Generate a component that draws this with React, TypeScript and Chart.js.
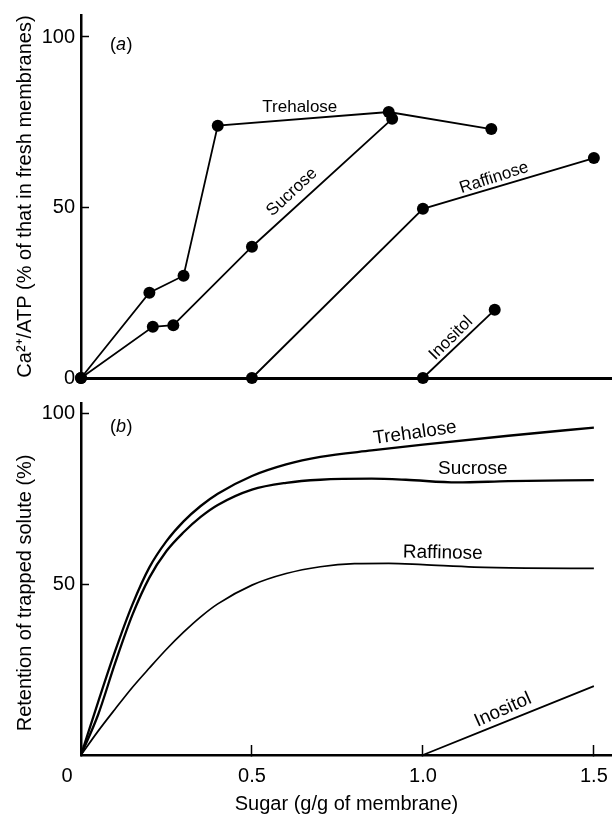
import React, { useEffect, useRef } from "react";
import { Chart, registerables } from "chart.js";

Chart.register(...registerables);

const FONT = '"Liberation Sans", Arial, Helvetica, sans-serif';

// ---- Panel (a): Ca2+/ATP coupling after drying with sugar ----
const trehaloseA_x = [0, 0.2, 0.3, 0.4, 0.9, 1.2];
const trehaloseA_y = [0, 25, 30, 74, 78, 73];
const sucroseA_x = [0, 0.21, 0.27, 0.5, 0.91];
const sucroseA_y = [0, 15, 15.5, 38.5, 76];
const raffinoseA_x = [0.5, 1.0, 1.5];
const raffinoseA_y = [0, 49.6, 64.5];
const inositolA_x = [1.0, 1.21];
const inositolA_y = [0, 20];

// ---- Panel (b): retention of trapped solute ----
const trehaloseB_x = [0, 0.05, 0.1, 0.15, 0.2, 0.25, 0.3, 0.35, 0.4, 0.5, 0.6, 0.7, 0.85, 1.0, 1.25, 1.5];
const trehaloseB_y = [0, 15.5, 30.5, 44, 55, 62.7, 68.5, 73, 76.6, 81.8, 85.2, 87.4, 89.3, 91, 93.6, 96];
const sucroseB_x = [0, 0.05, 0.1, 0.15, 0.2, 0.25, 0.3, 0.35, 0.4, 0.5, 0.6, 0.7, 0.85, 0.95, 1.1, 1.25, 1.5];
const sucroseB_y = [0, 11.8, 27, 41, 52, 59.8, 65.3, 69.8, 73.3, 77.8, 79.8, 80.7, 81, 80.7, 79.9, 80.3, 80.6];
const raffinoseB_x = [0, 0.05, 0.1, 0.15, 0.2, 0.25, 0.3, 0.35, 0.4, 0.5, 0.6, 0.7, 0.8, 0.9, 1.0, 1.15, 1.3, 1.5];
const raffinoseB_y = [0, 7, 13.5, 19.8, 25.5, 31, 36, 40.5, 44.3, 49.8, 53.2, 55.2, 56.1, 56.2, 55.8, 55.1, 54.8, 54.7];
const inositolB_x = [1.0, 1.5];
const inositolB_y = [0, 20.2];

// ---- Axes ----
const yTicksA = [0, 50, 100];
const yTicksB = [50, 100];
const xTicks = [0, 0.5, 1.0, 1.5];
const xTickLabels = ["0\u00a0\u00a0\u00a0\u00a0\u00a0", "0.5", "1.0", "1.5"];
const X_MAX = 1.553;

// Curve names written beside the lines (data coordinates, rotation in degrees)
const namesA = [
  { text: "Trehalose", x: 0.64, y: 79.4, angle: 0, size: 17 },
  { text: "Sucrose", x: 0.617, y: 54.5, angle: -43, size: 17 },
  { text: "Raffinose", x: 1.208, y: 58.7, angle: -18, size: 17 },
  { text: "Inositol", x: 1.082, y: 11.7, angle: -45, size: 17 },
];
const namesB = [
  { text: "Trehalose", x: 0.977, y: 94.4, angle: -8, size: 19 },
  { text: "Sucrose", x: 1.146, y: 83.9, angle: 0, size: 19 },
  { text: "Raffinose", x: 1.058, y: 59.2, angle: 1, size: 19 },
  { text: "Inositol", x: 1.234, y: 13.2, angle: -24, size: 19 },
];

const zip = (xs: number[], ys: number[]) => xs.map((x, i) => ({ x, y: ys[i] }));

const curveLabels = {
  id: "curveLabels",
  afterDatasetsDraw(chart: any, _args: any, opts: any) {
    const { ctx } = chart;
    const xs = chart.scales.x;
    const ys = chart.scales.y;
    ctx.save();
    ctx.fillStyle = "#000";
    ctx.textAlign = "center";
    ctx.textBaseline = "middle";
    for (const l of opts.items || []) {
      ctx.save();
      ctx.translate(xs.getPixelForValue(l.x), ys.getPixelForValue(l.y));
      ctx.rotate((l.angle * Math.PI) / 180);
      ctx.font = `${l.size}px ${FONT}`;
      ctx.fillText(l.text, 0, 0);
      ctx.restore();
    }
    // panel letter: upright parentheses, italic letter
    if (opts.letter) {
      const px = xs.getPixelForValue(opts.letter.x);
      const py = ys.getPixelForValue(opts.letter.y);
      const up = `18px ${FONT}`;
      const it = `italic 18px ${FONT}`;
      ctx.font = up;
      const wp = ctx.measureText("(").width;
      const wc = ctx.measureText(")").width;
      ctx.font = it;
      const wl = ctx.measureText(opts.letter.text).width;
      const x0 = px - (wp + wl + wc) / 2;
      ctx.textAlign = "left";
      ctx.font = up;
      ctx.fillText("(", x0, py);
      ctx.font = it;
      ctx.fillText(opts.letter.text, x0 + wp, py);
      ctx.font = up;
      ctx.fillText(")", x0 + wp + wl + 0.5, py);
    }
    ctx.restore();
  },
};

const pointSeries = (data: { x: number; y: number }[]) => ({
  data,
  showLine: true,
  borderColor: "#000",
  borderWidth: 1.8,
  pointRadius: 6,
  pointBackgroundColor: "#000",
  pointBorderColor: "#000",
  pointBorderWidth: 0,
  clip: false as const,
});

const curveSeries = (data: { x: number; y: number }[], width: number) => ({
  data,
  showLine: true,
  borderColor: "#000",
  borderWidth: width,
  pointRadius: 0,
  cubicInterpolationMode: "monotone" as const,
  clip: false as const,
});

// keep the plot area exactly where the layout padding puts it
const noScalePadding = (s: any) => {
  s.paddingTop = 0;
  s.paddingBottom = 0;
  s.paddingLeft = 0;
  s.paddingRight = 0;
};

const yAxisBase = (max: number, ticks: number[], title: string) => ({
  type: "linear" as const,
  min: 0,
  max,
  afterBuildTicks: (s: any) => {
    s.ticks = ticks.map((v) => ({ value: v }));
  },
  ticks: { color: "#000", font: { family: FONT, size: 20 }, padding: 14 },
  grid: { drawOnChartArea: false, drawTicks: true, tickLength: -8, tickWidth: 1.5, tickColor: "#000" },
  border: { display: true, color: "#000", width: 2.5 },
  title: { display: true, text: title, color: "#000", font: { family: FONT, size: 20 }, padding: { top: 13, bottom: 0 } },
  afterFit: (s: any) => {
    s.width = 81;
    noScalePadding(s);
  },
});

function configA(): any {
  return {
    type: "scatter",
    data: {
      datasets: [
        pointSeries(zip(trehaloseA_x, trehaloseA_y)),
        pointSeries(zip(sucroseA_x, sucroseA_y)),
        pointSeries(zip(raffinoseA_x, raffinoseA_y)),
        pointSeries(zip(inositolA_x, inositolA_y)),
      ],
    },
    options: {
      responsive: false,
      animation: false,
      devicePixelRatio: 1,
      events: [],
      layout: { autoPadding: false, padding: { top: 15, left: 0, right: 0, bottom: 0 } },
      plugins: {
        legend: { display: false },
        tooltip: { enabled: false },
        curveLabels: { items: namesA, letter: { text: "a", x: 0.117, y: 97.7 } },
      },
      scales: {
        x: {
          type: "linear",
          min: 0,
          max: X_MAX,
          ticks: { display: false },
          grid: { drawOnChartArea: false, drawTicks: false },
          border: { display: true, color: "#000", width: 3 },
          afterFit: (s: any) => {
            s.height = 12;
            noScalePadding(s);
          },
        },
        y: yAxisBase(106.45, yTicksA, "Ca²⁺/ATP (% of that in fresh membranes)"),
      },
    },
    plugins: [curveLabels],
  };
}

function configB(): any {
  return {
    type: "scatter",
    data: {
      datasets: [
        curveSeries(zip(trehaloseB_x, trehaloseB_y), 2.3),
        curveSeries(zip(sucroseB_x, sucroseB_y), 2.3),
        curveSeries(zip(raffinoseB_x, raffinoseB_y), 1.7),
        curveSeries(zip(inositolB_x, inositolB_y), 1.7),
      ],
    },
    options: {
      responsive: false,
      animation: false,
      devicePixelRatio: 1,
      events: [],
      layout: { autoPadding: false, padding: { top: 13, left: 0, right: 0, bottom: 0 } },
      plugins: {
        legend: { display: false },
        tooltip: { enabled: false },
        curveLabels: { items: namesB, letter: { text: "b", x: 0.117, y: 96.2 } },
      },
      scales: {
        x: {
          type: "linear",
          min: 0,
          max: X_MAX,
          afterBuildTicks: (s: any) => {
            s.ticks = xTicks.map((v) => ({ value: v }));
          },
          ticks: {
            color: "#000",
            font: { family: FONT, size: 20 },
            padding: 19,
            autoSkip: false,
            maxRotation: 0,
            callback: (_v: any, i: number) => xTickLabels[i],
          },
          grid: { drawOnChartArea: false, drawTicks: true, tickLength: -10, tickWidth: 1.5, tickColor: "#000" },
          border: { display: true, color: "#000", width: 2.5 },
          title: {
            display: true,
            text: "Sugar (g/g of membrane)",
            color: "#000",
            font: { family: FONT, size: 20 },
            padding: { top: 0, bottom: 1 },
          },
          afterFit: (s: any) => {
            s.height = 62;
            noScalePadding(s);
          },
        },
        y: yAxisBase(103.2, yTicksB, "Retention of trapped solute (%)\u00a0\u00a0\u00a0\u00a0\u00a0"),
      },
    },
    plugins: [curveLabels],
  };
}

function Panel({ make, width, height }: { make: () => any; width: number; height: number }) {
  const ref = useRef<HTMLCanvasElement>(null);
  useEffect(() => {
    const chart = new Chart(ref.current as HTMLCanvasElement, make());
    return () => chart.destroy();
  }, [make]);
  return <canvas ref={ref} width={width} height={height} style={{ display: "block", width, height }} />;
}

export default function App() {
  return (
    <div style={{ position: "absolute", left: 0, top: 0, width: 612, height: 817, background: "#fff" }}>
      <Panel make={configA} width={612} height={390} />
      <Panel make={configB} width={612} height={427} />
    </div>
  );
}
